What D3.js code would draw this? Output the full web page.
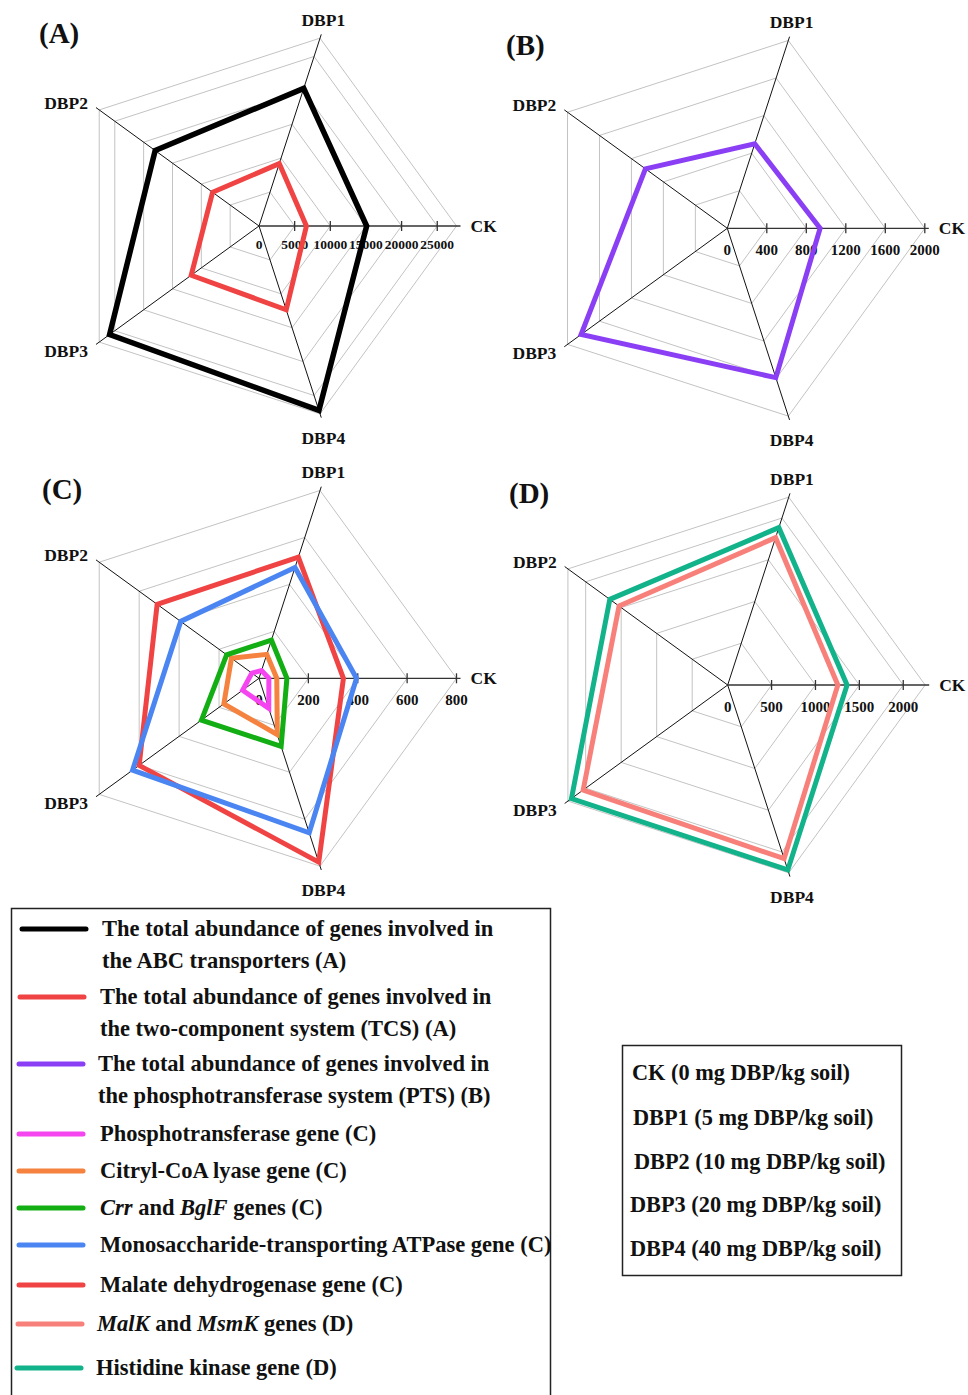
<!DOCTYPE html>
<html>
<head>
<meta charset="utf-8">
<script src="https://cdn.jsdelivr.net/npm/d3@7"></script>
<style>
  html, body { margin: 0; padding: 0; background: #fff; }
  svg { display: block; }
  text { font-family: "Liberation Serif", "Times New Roman", serif; font-weight: bold; fill: #111; }
</style>
</head>
<body>
<svg id="fig" width="968" height="1395"></svg>
<script>
// Treatments on the five radar spokes
const axisNames = ["CK", "DBP1", "DBP2", "DBP3", "DBP4"];

// (A) total gene abundances
const abcTransporters = [15100, 20300, 18000, 25900, 27200];
const twoComponent   = [6650, 9200, 8050, 11750, 12350];

// (B) phosphotransferase system
const ptsTotal = [940, 900, 1025, 1830, 1590];

// (C) single genes
const phosphotransferase = [40, 33, 36, 82, 128];
const citrylCoALyase     = [72, 102, 138, 176, 240];
const crrBglF            = [113, 163, 162, 288, 290];
const monosaccharideATPase = [395, 472, 392, 633, 658];
const malateDehydrogenase  = [342, 516, 510, 600, 783];

// (D) single genes
const malKMsmK        = [1255, 1765, 1530, 2035, 2080];
const histidineKinase = [1360, 1885, 1660, 2200, 2215];

// radial axis ticks
const ticksA = [0, 5000, 10000, 15000, 20000, 25000];
const ticksB = [0, 400, 800, 1200, 1600, 2000];
const ticksC = [0, 200, 400, 600, 800];
const ticksD = [0, 500, 1000, 1500, 2000];

const C = {
  black: "#000000", red: "#f04343", purple: "#8a3ff5", magenta: "#f545f0",
  orange: "#f5823f", green: "#13ae13", blue: "#4a85f2", pink: "#f8807a", teal: "#12b38a"
};

const panels = [
  { tag: "(A)", tagX: 39, tagY: 43, cx: 259, cy: 226, max: 27700, ticks: ticksA, tickFont: 13.5, tickDy: 23,
    series: [{ v: twoComponent, c: C.red, w: 5 }, { v: abcTransporters, c: C.black, w: 5.5 }] },
  { tag: "(B)", tagX: 506, tagY: 55, cx: 727.3, cy: 228.3, max: 2000, ticks: ticksB, tickFont: 15, tickDy: 27,
    series: [{ v: ptsTotal, c: C.purple, w: 5 }] },
  { tag: "(C)", tagX: 42, tagY: 499, cx: 259, cy: 678.3, max: 800, ticks: ticksC, tickFont: 15, tickDy: 27,
    series: [{ v: phosphotransferase, c: C.magenta, w: 5 }, { v: citrylCoALyase, c: C.orange, w: 5 }, { v: crrBglF, c: C.green, w: 5 },
             { v: malateDehydrogenase, c: C.red, w: 5 }, { v: monosaccharideATPase, c: C.blue, w: 5 }] },
  { tag: "(D)", tagX: 509, tagY: 503, cx: 727.7, cy: 685, max: 2250, ticks: ticksD, tickFont: 15, tickDy: 26.5,
    series: [{ v: histidineKinase, c: C.teal, w: 5 }, { v: malKMsmK, c: C.pink, w: 5 }] }
];

const R = 197.5;
const svg = d3.select("#fig");

// spoke angle for d3.lineRadial (clockwise from 12 o'clock); CK points right, others counter-clockwise
const ang = i => Math.PI / 2 - i * 2 * Math.PI / 5;
const px = (a, r) => r * Math.sin(a);
const py = (a, r) => -r * Math.cos(a);

// label offsets from spoke tips
const labelPos = [
  { dx: 10, dy: 0, anchor: "start" },
  { dx: 2, dy: -15, anchor: "middle" },
  { dx: -8, dy: -5, anchor: "end" },
  { dx: -8, dy: 6, anchor: "end" },
  { dx: 2, dy: 20, anchor: "middle" }
];

panels.forEach(p => {
  const g = svg.append("g").attr("transform", `translate(${p.cx},${p.cy})`);
  const r = d3.scaleLinear().domain([0, p.max]).range([0, R]);
  const ring = d3.lineRadial().angle((d, i) => ang(i)).radius(d => r(d)).curve(d3.curveLinearClosed);

  // grid rings
  const rings = p.ticks.filter(t => t > 0);
  if (rings[rings.length - 1] < p.max) rings.push(p.max);
  g.selectAll("path.grid").data(rings).join("path")
    .attr("class", "grid")
    .attr("d", t => ring(axisNames.map(() => t)))
    .attr("fill", "none").attr("stroke", "#c3c3c3").attr("stroke-width", 1);

  // spokes
  axisNames.forEach((name, i) => {
    if (i === 0) return;
    g.append("line").attr("x1", 0).attr("y1", 0)
      .attr("x2", px(ang(i), R + 4)).attr("y2", py(ang(i), R + 4))
      .attr("stroke", "#111").attr("stroke-width", 1);
  });

  // value axis along CK with ticks
  g.append("line").attr("x1", 0).attr("y1", 0).attr("x2", R + 4).attr("y2", 0)
    .attr("stroke", "#333").attr("stroke-width", 1.3);
  g.selectAll("line.tick").data(p.ticks.filter(t => t > 0)).join("line")
    .attr("class", "tick")
    .attr("x1", t => r(t)).attr("x2", t => r(t)).attr("y1", -5).attr("y2", 5)
    .attr("stroke", "#333").attr("stroke-width", 1.3);
  g.selectAll("text.ticklab").data(p.ticks).join("text")
    .attr("class", "ticklab")
    .attr("x", t => r(t)).attr("y", p.tickDy)
    .attr("text-anchor", "middle").attr("font-size", p.tickFont)
    .text(d3.format("d"));

  // data polygons
  p.series.forEach(s => {
    g.append("path").attr("d", ring(s.v))
      .attr("fill", "none").attr("stroke", s.c).attr("stroke-width", s.w)
      .attr("stroke-linejoin", "miter");
  });

  // spoke labels
  axisNames.forEach((name, i) => {
    const lp = labelPos[i];
    g.append("text")
      .attr("x", px(ang(i), R + 4) + lp.dx).attr("y", py(ang(i), R + 4) + lp.dy)
      .attr("dy", "0.35em").attr("text-anchor", lp.anchor).attr("font-size", 17.5)
      .text(name);
  });

  svg.append("text").attr("x", p.tagX).attr("y", p.tagY).attr("font-size", 29).text(p.tag);
});

// series legend
const legendItems = [
  { c: C.black, y: 929, x0: 20, tx: 102, lines: [[["The total abundance of genes involved in", 0]], [["the ABC transporters (A)", 0]]] },
  { c: C.red, y: 997, x0: 18, tx: 100, lines: [[["The total abundance of genes involved in", 0]], [["the two-component system (TCS) (A)", 0]]] },
  { c: C.purple, y: 1064, x0: 17, tx: 98, lines: [[["The total abundance of genes involved in", 0]], [["the phosphotransferase system (PTS) (B)", 0]]] },
  { c: C.magenta, y: 1134, x0: 17, tx: 100, lines: [[["Phosphotransferase gene (C)", 0]]] },
  { c: C.orange, y: 1171, x0: 17, tx: 100, lines: [[["Citryl-CoA lyase gene (C)", 0]]] },
  { c: C.green, y: 1208, x0: 17, tx: 100, lines: [[["Crr", 1], [" and ", 0], ["BglF", 1], [" genes (C)", 0]]] },
  { c: C.blue, y: 1245, x0: 17, tx: 100, lines: [[["Monosaccharide-transporting ATPase gene (C)", 0]]] },
  { c: C.red, y: 1285, x0: 17, tx: 100, lines: [[["Malate dehydrogenase gene (C)", 0]]] },
  { c: C.pink, y: 1324, x0: 16, tx: 97, lines: [[["MalK", 1], [" and ", 0], ["MsmK", 1], [" genes (D)", 0]]] },
  { c: C.teal, y: 1368, x0: 15, tx: 96, lines: [[["Histidine kinase gene (D)", 0]]] }
];

const leg = svg.append("g");
leg.append("rect").attr("x", 11.5).attr("y", 908.5).attr("width", 539).attr("height", 520)
  .attr("fill", "none").attr("stroke", "#222").attr("stroke-width", 1.5);

legendItems.forEach(it => {
  leg.append("line").attr("x1", it.x0 + 2).attr("x2", it.x0 + 66).attr("y1", it.y).attr("y2", it.y)
    .attr("stroke", it.c).attr("stroke-width", 5).attr("stroke-linecap", "round");
  it.lines.forEach((segs, li) => {
    const t = leg.append("text").attr("x", it.tx).attr("y", it.y + 7 + li * 32).attr("font-size", 22.5);
    segs.forEach(([s, ital]) => t.append("tspan").attr("font-style", ital ? "italic" : "normal").text(s));
  });
});

// treatment key
const treatmentKey = [
  "CK (0 mg DBP/kg soil)",
  "DBP1 (5 mg DBP/kg soil)",
  "DBP2 (10 mg DBP/kg soil)",
  "DBP3 (20 mg DBP/kg soil)",
  "DBP4 (40 mg DBP/kg soil)"
];
const keyX = [632, 633, 634, 630, 630];
const keyY = [1080, 1125, 1169, 1212, 1256];
const key = svg.append("g");
key.append("rect").attr("x", 622.5).attr("y", 1045.5).attr("width", 279).attr("height", 230)
  .attr("fill", "none").attr("stroke", "#222").attr("stroke-width", 1.5);
key.selectAll("text").data(treatmentKey).join("text")
  .attr("x", (d, i) => keyX[i]).attr("y", (d, i) => keyY[i])
  .attr("font-size", 22.3).text(d => d);
</script>
</body>
</html>
